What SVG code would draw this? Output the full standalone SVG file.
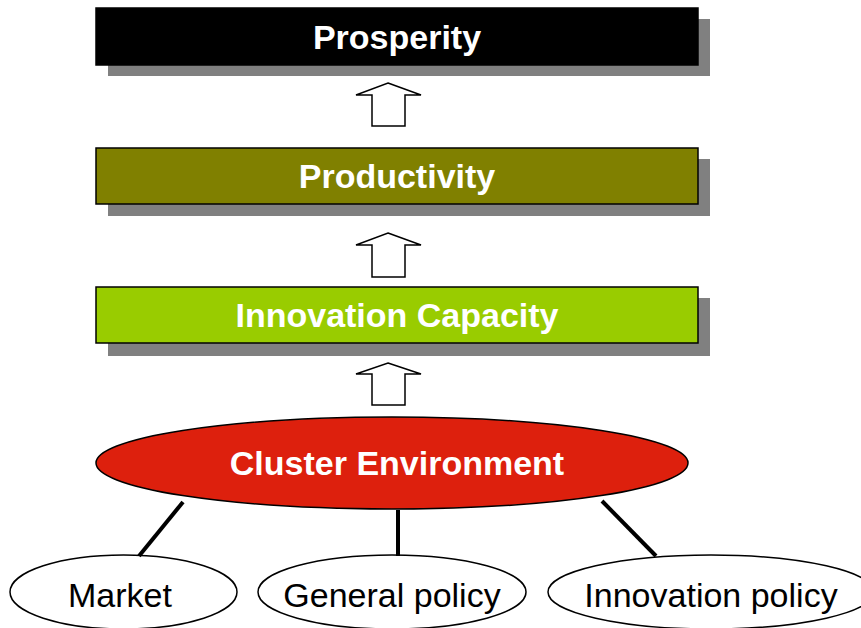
<svg xmlns="http://www.w3.org/2000/svg" width="861" height="628" viewBox="0 0 861 628">
<defs>
<style>
.shadow{fill:#808080;}
.box{stroke:#000;stroke-width:1.5;}
.t{font-family:"Liberation Sans",Arial,sans-serif;font-size:34px;text-anchor:middle;}
.tb{font-weight:bold;fill:#fff;}
.tn{fill:#000;}
.arrow{fill:#fff;stroke:#000;stroke-width:1.5;stroke-linejoin:miter;}
.link{stroke:#000;stroke-width:4;fill:none;}
.leaf{fill:#fff;stroke:#000;stroke-width:1.5;}
</style>
</defs>
<rect width="861" height="628" fill="#fff"/>
<g id="prosperity">
<rect class="shadow" x="108" y="19" width="602" height="57"/>
<rect class="box" x="96" y="8" width="602" height="57" fill="#000"/>
<text class="t tb" x="397" y="49">Prosperity</text>
</g>
<g id="productivity">
<rect class="shadow" x="108" y="159" width="602" height="57"/>
<rect class="box" x="96" y="148" width="602" height="56" fill="#808000"/>
<text class="t tb" x="397" y="188">Productivity</text>
</g>
<g id="innovation-capacity">
<rect class="shadow" x="108" y="298" width="602" height="58"/>
<rect class="box" x="96" y="287" width="602" height="56" fill="#99CC00"/>
<text class="t tb" x="397" y="327">Innovation Capacity</text>
</g>
<g id="cluster-environment">
<ellipse cx="392" cy="463" rx="296" ry="46" fill="#DD200D" stroke="#000" stroke-width="1.5"/>
<text class="t tb" x="397" y="475">Cluster Environment</text>
</g>
<g id="market">
<ellipse class="leaf" cx="123.5" cy="592" rx="113.5" ry="37"/>
<text class="t tn" x="120" y="607">Market</text>
</g>
<g id="general-policy">
<ellipse class="leaf" cx="392" cy="592" rx="134" ry="37"/>
<text class="t tn" x="392" y="607">General policy</text>
</g>
<g id="innovation-policy">
<ellipse class="leaf" cx="711" cy="592" rx="163" ry="37"/>
<text class="t tn" x="711" y="607">Innovation policy</text>
</g>
<g id="connectors">
<path class="arrow" d="M388 83 L421 95 L405 95 L405 126 L372 126 L372 95 L356 95 Z"/>
<path class="arrow" d="M388 233 L421 245 L405 245 L405 277 L372 277 L372 245 L356 245 Z"/>
<path class="arrow" d="M388 363 L421 374 L405 374 L405 405 L372 405 L372 374 L356 374 Z"/>
<line class="link" x1="183" y1="502" x2="139" y2="556"/>
<line class="link" x1="398" y1="510" x2="398" y2="556"/>
<line class="link" x1="602" y1="501" x2="656" y2="556"/>
</g>
</svg>
